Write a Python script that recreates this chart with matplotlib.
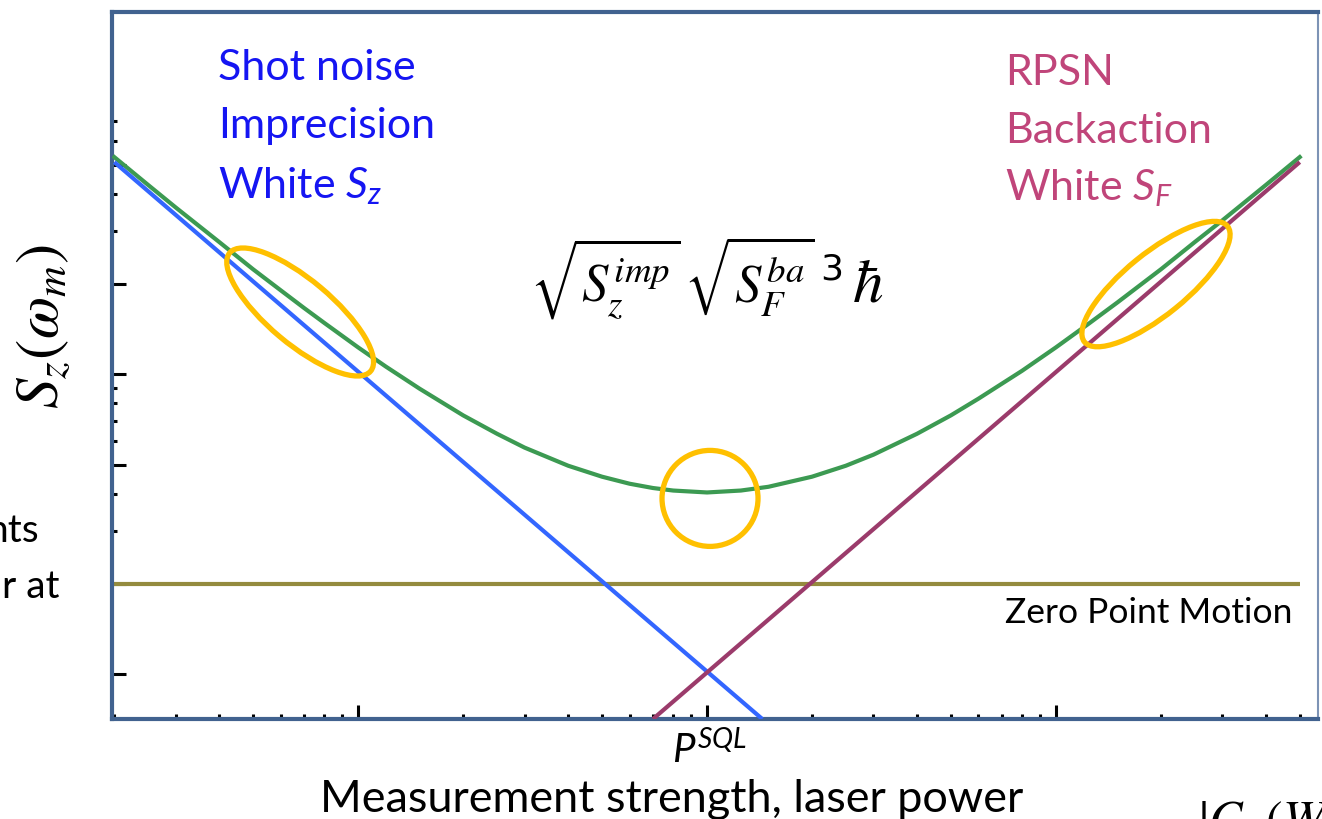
import matplotlib
matplotlib.use("Agg")
import matplotlib.pyplot as plt
import matplotlib.transforms as mtransforms
from matplotlib.patches import Ellipse
from matplotlib.ticker import FixedLocator, NullFormatter, LogLocator

plt.rcParams['font.family'] = ['Lato', 'DejaVu Sans']
plt.rcParams['mathtext.fontset'] = 'custom'
plt.rcParams['mathtext.it'] = 'Lato:italic'
plt.rcParams['mathtext.rm'] = 'Lato'
plt.rcParams['mathtext.sf'] = 'Lato'

# values (arbitrary units, log-log)
power_imp = [2, 144]
s_imp = [25.5, 0.355]
power_ba = [70, 5000]
s_ba = [0.355, 25.5]
power_zp = [2, 5000]
s_zp = [1.0, 1.0]
power_tot = [2, 2.5, 3, 4, 5, 6, 7, 8, 10, 12, 15, 20, 25, 30, 40, 50, 60, 70,
             80, 100, 125, 150, 200, 250, 300, 400, 500, 600, 800, 1000, 1250,
             1500, 2000, 2500, 3000, 4000, 5000]
s_tot = [26.5, 21.4, 18.0, 13.8, 11.2, 9.53, 8.32, 7.42, 6.15, 5.31, 4.48,
         3.65, 3.17, 2.85, 2.48, 2.28, 2.16, 2.09, 2.05, 2.02, 2.05, 2.11,
         2.28, 2.48, 2.70, 3.17, 3.65, 4.15, 5.14, 6.15, 7.42, 8.68, 11.2,
         13.8, 16.3, 21.4, 26.5]

# highlighted spots: (power, S, half-long px, half-short px, angle)
circles = [(6.82, 8.07, 92, 32, -40),
           (102, 1.93, 48, 48, 0),
           (1936, 10.0, 92, 31, 39)]

ytick_major = [0.5, 1, 2.5, 5, 10, 25]
ytick_minor = [1.5, 2, 3, 3.5, 4, 4.5, 15, 20, 30, 35]

W, H = 1322, 820
fig = plt.figure(figsize=(W / 100, H / 100), dpi=100)
ax = fig.add_axes([112 / W, 1 - 720 / H, (1318 - 112) / W, (720 - 13) / H])
ax.set_xscale('log')
ax.set_yscale('log')
ax.set_xlim(1.97, 5640)
ax.set_ylim(0.355, 80.7)

ax.plot(power_zp, s_zp, color='#948B3E', lw=3.0, solid_capstyle='butt', zorder=2)
ax.plot(power_tot, s_tot, color='#3C9A52', lw=3.0, zorder=3)
ax.plot(power_imp, s_imp, color='#3366FF', lw=3.0, solid_capstyle='butt', zorder=4)
ax.plot(power_ba, s_ba, color='#9B3B6B', lw=3.0, solid_capstyle='butt', zorder=4)

for px, sy, a, b, ang in circles:
    tr = fig.dpi_scale_trans + mtransforms.ScaledTranslation(px, sy, ax.transData)
    e = Ellipse((0, 0), 2 * a / 100, 2 * b / 100, angle=ang, transform=tr,
                fill=False, edgecolor='#FFC000', lw=3.8, zorder=5, clip_on=False)
    ax.add_patch(e)

# frame + ticks
for side in ['left', 'top', 'bottom']:
    ax.spines[side].set_color('#41628F')
    ax.spines[side].set_linewidth(3.0)
ax.spines['right'].set_color('#7D93B5')
ax.spines['right'].set_linewidth(1.5)

ax.xaxis.set_major_locator(LogLocator(base=10))
ax.xaxis.set_minor_locator(LogLocator(base=10, subs=range(2, 10)))
ax.yaxis.set_major_locator(FixedLocator(ytick_major))
ax.yaxis.set_minor_locator(FixedLocator(ytick_minor))
ax.xaxis.set_major_formatter(NullFormatter())
ax.xaxis.set_minor_formatter(NullFormatter())
ax.yaxis.set_major_formatter(NullFormatter())
ax.yaxis.set_minor_formatter(NullFormatter())
ax.tick_params(which='major', direction='in', length=10, width=2.2, color='black',
               top=False, right=False)
ax.tick_params(which='minor', direction='in', length=3.5, width=2.2, color='black',
               top=False, right=False)


def ftext(x, y, s, **kw):
    return fig.text(x / W, 1 - y / H, s, **kw)


blue_txt = '#1515F2'
pink_txt = '#C0457A'
ftext(218, 80, 'Shot noise', color=blue_txt, fontsize=31, va='baseline')
ftext(218, 138, 'Imprecision', color=blue_txt, fontsize=31, va='baseline')
ftext(218, 198, r'White $S_z$', color=blue_txt, fontsize=31, va='baseline')

ftext(1005, 85, 'RPSN', color=pink_txt, fontsize=31, va='baseline')
ftext(1005, 143, 'Backaction', color=pink_txt, fontsize=31, va='baseline')
ftext(1005, 200, r'White $S_F$', color=pink_txt, fontsize=31, va='baseline')

# uncertainty relation, pieces placed one after another
rel = ftext(530, 302, r'$\sqrt{S_z^{imp}}\,\sqrt{S_F^{ba}}$', fontsize=38,
            math_fontfamily='stix', va='baseline')
fig.canvas.draw()
x_end = rel.get_window_extent().x1
three = fig.text((x_end + 5) / W, 1 - 279 / H, '3', fontsize=26,
                 family='DejaVu Sans', va='baseline')
fig.canvas.draw()
x_end = three.get_window_extent().x1
fig.text((x_end + 9) / W, 1 - 302 / H, r'$\hbar$', fontsize=44,
         math_fontfamily='stix', va='baseline')

ftext(1005, 623, 'Zero Point Motion', fontsize=25.5, va='baseline')

ftext(672, 763, r'$P^{SQL}$', fontsize=29, va='baseline')
ftext(672, 812, 'Measurement strength, laser power', fontsize=32.4, ha='center',
      va='baseline')

ftext(43, 326, r'$S_z(\omega_m)$', fontsize=44, math_fontfamily='stix',
      rotation=90, ha='center', va='center')

# cut-off text at the picture edges
ftext(39, 542, 'nts', fontsize=28, ha='right', va='baseline')
ftext(60, 598, 'r at', fontsize=28, ha='right', va='baseline')
ftext(1198, 799, r'$|C\ \ (W$', fontsize=36, math_fontfamily='stix', va='top')

fig.savefig('out.png', dpi=100)
